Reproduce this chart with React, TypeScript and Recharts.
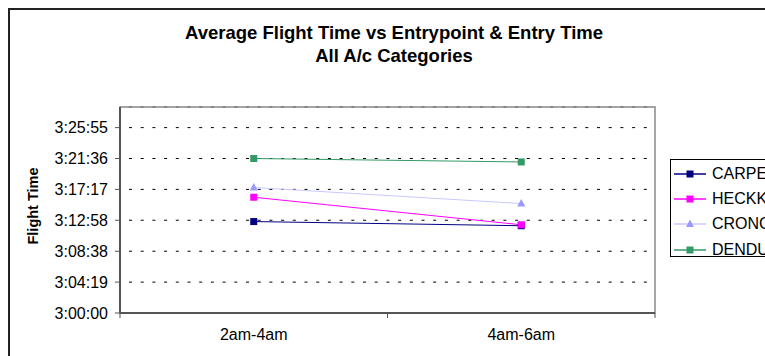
import React from "react";
import {
  LineChart,
  Line,
  XAxis,
  YAxis,
  CartesianGrid,
  ReferenceArea,
  Legend,
} from "recharts";

// category labels and per-series average flight times (h:mm:ss)
const categories = ["2am-4am", "4am-6am"];
const carpe = ["3:12:47", "3:12:12"];
const heckk = ["3:16:11", "3:12:20"];
const cronc = ["3:17:33", "3:15:18"];
const dendu = ["3:21:36", "3:21:07"];

const yTickLabels = [
  "3:00:00",
  "3:04:19",
  "3:08:38",
  "3:12:58",
  "3:17:17",
  "3:21:36",
  "3:25:55",
];
const yMin = "3:00:00";
const yMax = "3:28:48";

const FONT = '"Liberation Sans", Arial, sans-serif';

const toSec = (t: string) => {
  const [h, m, s] = t.split(":").map(Number);
  return h * 3600 + m * 60 + s;
};

const fmtTime = (v: number) => {
  const r = Math.round(v);
  const h = Math.floor(r / 3600);
  const m = Math.floor((r % 3600) / 60);
  const s = r % 60;
  return `${h}:${String(m).padStart(2, "0")}:${String(s).padStart(2, "0")}`;
};

const series = [
  { name: "CARPE", values: carpe, stroke: "#000080", fill: "#000080", shape: "square" },
  { name: "HECKK", values: heckk, stroke: "#FF00FF", fill: "#FF00FF", shape: "square" },
  { name: "CRONC", values: cronc, stroke: "#C8C8FF", fill: "#9999FF", shape: "triangle" },
  { name: "DENDU", values: dendu, stroke: "#339966", fill: "#339966", shape: "square" },
];

const data = categories.map((cat, i) => {
  const row: Record<string, number | string> = { x: i + 0.5, cat };
  series.forEach((s) => {
    row[s.name] = toSec(s.values[i]);
  });
  return row;
});

const Marker = ({ cx, cy, shape, fill }: any) => {
  if (cx == null || cy == null) return null;
  if (shape === "triangle") {
    return (
      <polygon
        points={`${cx},${cy - 4.5} ${cx - 4},${cy + 3} ${cx + 4},${cy + 3}`}
        fill={fill}
      />
    );
  }
  return <rect x={cx - 3.5} y={cy - 3.5} width={7} height={7} fill={fill} />;
};

const LegendBox = () => (
  <div
    style={{
      border: "1px solid #000",
      width: 140,
      height: 98,
      background: "#fff",
      fontFamily: FONT,
      fontSize: 16,
      boxSizing: "border-box",
      paddingTop: 1,
    }}
  >
    {series.map((s) => (
      <div
        key={s.name}
        style={{ display: "flex", alignItems: "center", height: 25.3 }}
      >
        <svg width={38} height={16} style={{ marginLeft: 3 }}>
          <line x1={0} x2={32} y1={8} y2={8} stroke={s.stroke} strokeWidth={1.5} />
          <Marker cx={16} cy={8} shape={s.shape} fill={s.fill} />
        </svg>
        <span style={{ color: "#000" }}>{s.name}</span>
      </div>
    ))}
  </div>
);

const YLabel = ({ viewBox }: any) => {
  const cy = viewBox.y + viewBox.height / 2 - 4;
  return (
    <text
      x={33}
      y={cy}
      transform={`rotate(-90 33 ${cy})`}
      textAnchor="middle"
      dominantBaseline="central"
      fontFamily={FONT}
      fontSize={14.5}
      fontWeight="bold"
      fill="#000"
    >
      Flight Time
    </text>
  );
};

export default function App() {
  const yTicks = yTickLabels.map(toSec);
  return (
    <div
      style={{
        position: "absolute",
        left: 0,
        top: 0,
        width: 765,
        height: 356,
        overflow: "hidden",
        background: "#fff",
        fontFamily: FONT,
      }}
    >
      <div
        style={{
          position: "absolute",
          left: 8,
          top: 8,
          width: 900,
          height: 500,
          border: "2px solid #222",
        }}
      />
      <div
        style={{
          position: "absolute",
          left: 0,
          top: 21,
          width: 788,
          textAlign: "center",
          fontWeight: "bold",
          fontSize: 18.5,
          lineHeight: "23px",
          color: "#000",
        }}
      >
        Average Flight Time vs Entrypoint &amp; Entry Time
        <br />
        All A/c Categories
      </div>
      <div style={{ position: "absolute", left: 0, top: 0 }}>
        <LineChart
          width={800}
          height={356}
          data={data}
          margin={{ top: 107, right: 145, bottom: 0, left: 0 }}
        >
          <CartesianGrid
            vertical={false}
            stroke="#000"
            strokeDasharray="3 8.7"
            strokeDashoffset={-9}
          />
          <ReferenceArea
            x1={0}
            x2={2}
            y1={toSec(yMin)}
            y2={toSec(yMax)}
            fill="none"
            stroke="#888"
            strokeWidth={1.5}
          />
          <XAxis
            dataKey="x"
            type="number"
            domain={[0, 2]}
            ticks={[0, 1, 2]}
            tickFormatter={() => ""}
            height={1}
            tickSize={5}
            stroke="#555"
            axisLine={{ stroke: "#555", strokeWidth: 2 }}
          />
          <XAxis
            xAxisId="labels"
            dataKey="x"
            type="number"
            domain={[0, 2]}
            ticks={[0.5, 1.5]}
            tickFormatter={(v: number) => categories[Math.floor(v)]}
            height={42}
            tickSize={0}
            tickMargin={15}
            axisLine={false}
            tickLine={false}
            tick={{ fontSize: 16, fill: "#000", fontFamily: FONT }}
          />
          <YAxis
            type="number"
            domain={[toSec(yMin), toSec(yMax)]}
            ticks={yTicks}
            tickFormatter={fmtTime}
            allowDataOverflow
            width={120}
            tickSize={5}
            tickMargin={7}
            stroke="#555"
            axisLine={{ stroke: "#555", strokeWidth: 2 }}
            tick={{ fontSize: 16, fill: "#000", fontFamily: FONT }}
            label={<YLabel />}
          />
          <Legend
            layout="horizontal"
            verticalAlign="middle"
            align="center"
            wrapperStyle={{ left: 670, top: 159, width: 140, height: 98 }}
            content={() => <LegendBox />}
          />
          {series.map((s) => (
            <Line
              key={s.name}
              dataKey={s.name}
              name={s.name}
              stroke={s.stroke}
              strokeWidth={1}
              isAnimationActive={false}
              dot={(p: any) => (
                <Marker key={`${s.name}-${p.index}`} cx={p.cx} cy={p.cy} shape={s.shape} fill={s.fill} />
              )}
              activeDot={false}
            />
          ))}
        </LineChart>
      </div>
    </div>
  );
}
